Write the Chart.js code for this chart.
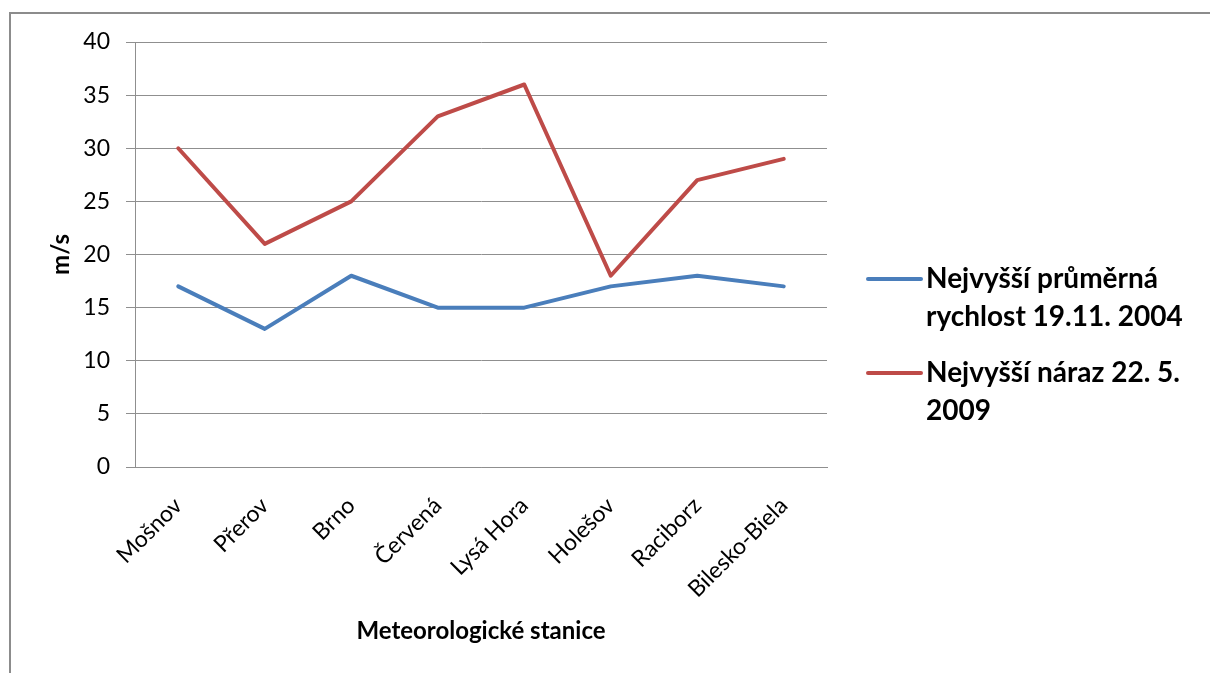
<!DOCTYPE html>
<html lang="cs">
<head>
<meta charset="utf-8">
<title>Rychlost větru – meteorologické stanice</title>
<script src="https://cdn.jsdelivr.net/npm/chart.js@4.4.1/dist/chart.umd.min.js"></script>
<style>
  html, body { margin: 0; padding: 0; background: #ffffff; }
  #wrap { position: relative; width: 1210px; height: 673px; overflow: hidden; }
  #frame { position: absolute; left: 9px; top: 12px; width: 1300px; height: 800px;
           border-left: 2px solid #8c8c8c; border-top: 2px solid #8c8c8c; box-sizing: border-box; }
  canvas { position: absolute; left: 0; top: 0; }
</style>
</head>
<body>
<div id="wrap">
  <div id="frame"></div>
  <canvas id="chart" width="1210" height="673"></canvas>
</div>
<script>
// Stanice a naměřené rychlosti větru (m/s)
const stations = ["Mošnov", "Přerov", "Brno", "Červená", "Lysá Hora", "Holešov", "Raciborz", "Bilesko-Biela"];
const avgSpeed2004 = [17, 13, 18, 15, 15, 17, 18, 17];
const gust2009 = [30, 21, 25, 33, 36, 18, 27, 29];
const yTicks = [0, 5, 10, 15, 20, 25, 30, 35, 40];
const seriesNames = [
  ["Nejvyšší průměrná", "rychlost 19.11. 2004"],
  ["Nejvyšší náraz 22. 5.", "2009"]
];
const xTitle = "Meteorologické stanice";
const yTitle = "m/s";

const FONT = "Lato, 'Open Sans', sans-serif";
const GRID = "#8f8f8f";

// Legenda vpravo s texty zalomenými do více řádků
const wrappedLegend = {
  id: "wrappedLegend",
  afterDraw(chart) {
    const ctx = chart.ctx;
    const area = chart.chartArea;
    const x0 = area.right + 41;
    const lineLen = 53;
    const lineH = 38;
    let y = 279;
    ctx.save();
    ctx.font = "bold 28px " + FONT;
    ctx.textBaseline = "middle";
    ctx.textAlign = "left";
    chart.data.datasets.forEach((ds, i) => {
      ctx.strokeStyle = ds.borderColor;
      ctx.lineWidth = 4;
      ctx.lineCap = "round";
      ctx.beginPath();
      ctx.moveTo(x0, y);
      ctx.lineTo(x0 + lineLen, y);
      ctx.stroke();
      ctx.fillStyle = "#000000";
      seriesNames[i].forEach((t, k) => ctx.fillText(t, x0 + lineLen + 5, y + k * lineH));
      y += seriesNames[i].length * lineH + 18;
    });
    ctx.restore();
  }
};

new Chart(document.getElementById("chart"), {
  type: "line",
  data: {
    labels: stations,
    datasets: [
      { label: seriesNames[0].join(" "), data: avgSpeed2004, borderColor: "#4A7EBB", backgroundColor: "#4A7EBB",
        borderWidth: 4, pointRadius: 0, tension: 0, borderJoinStyle: "round", borderCapStyle: "round" },
      { label: seriesNames[1].join(" "), data: gust2009, borderColor: "#BE4B48", backgroundColor: "#BE4B48",
        borderWidth: 4, pointRadius: 0, tension: 0, borderJoinStyle: "round", borderCapStyle: "round" }
    ]
  },
  options: {
    responsive: false,
    animation: false,
    events: [],
    layout: { padding: { left: 0, top: 42, right: 383, bottom: 0 } },
    plugins: { legend: { display: false }, tooltip: { enabled: false } },
    scales: {
      x: {
        offset: true,
        grid: { display: false },
        border: { display: true, color: GRID, width: 1 },
        ticks: {
          color: "#000000", font: { family: FONT, size: 23 },
          maxRotation: 45, minRotation: 45, padding: 17, autoSkip: false
        },
        title: { display: true, text: xTitle, color: "#000000",
                 font: { family: FONT, size: 24, weight: "bold" }, padding: { top: 0, bottom: 27 } },
        afterFit(scale) { scale.height = 206; }
      },
      y: {
        min: 0, max: 40,
        afterBuildTicks(scale) { scale.ticks = yTicks.map(v => ({ value: v })); },
        grid: { color: GRID, lineWidth: 1, drawTicks: true, tickLength: 9 },
        border: { display: true, color: GRID, width: 1 },
        ticks: { color: "#000000", font: { family: FONT, size: 23 }, padding: 16 },
        title: { display: true, text: yTitle, color: "#000000",
                 font: { family: FONT, size: 24, weight: "bold" }, padding: { top: 47, bottom: 0 } },
        afterFit(scale) { scale.width = 135; }
      }
    }
  },
  plugins: [wrappedLegend]
});
</script>
</body>
</html>
